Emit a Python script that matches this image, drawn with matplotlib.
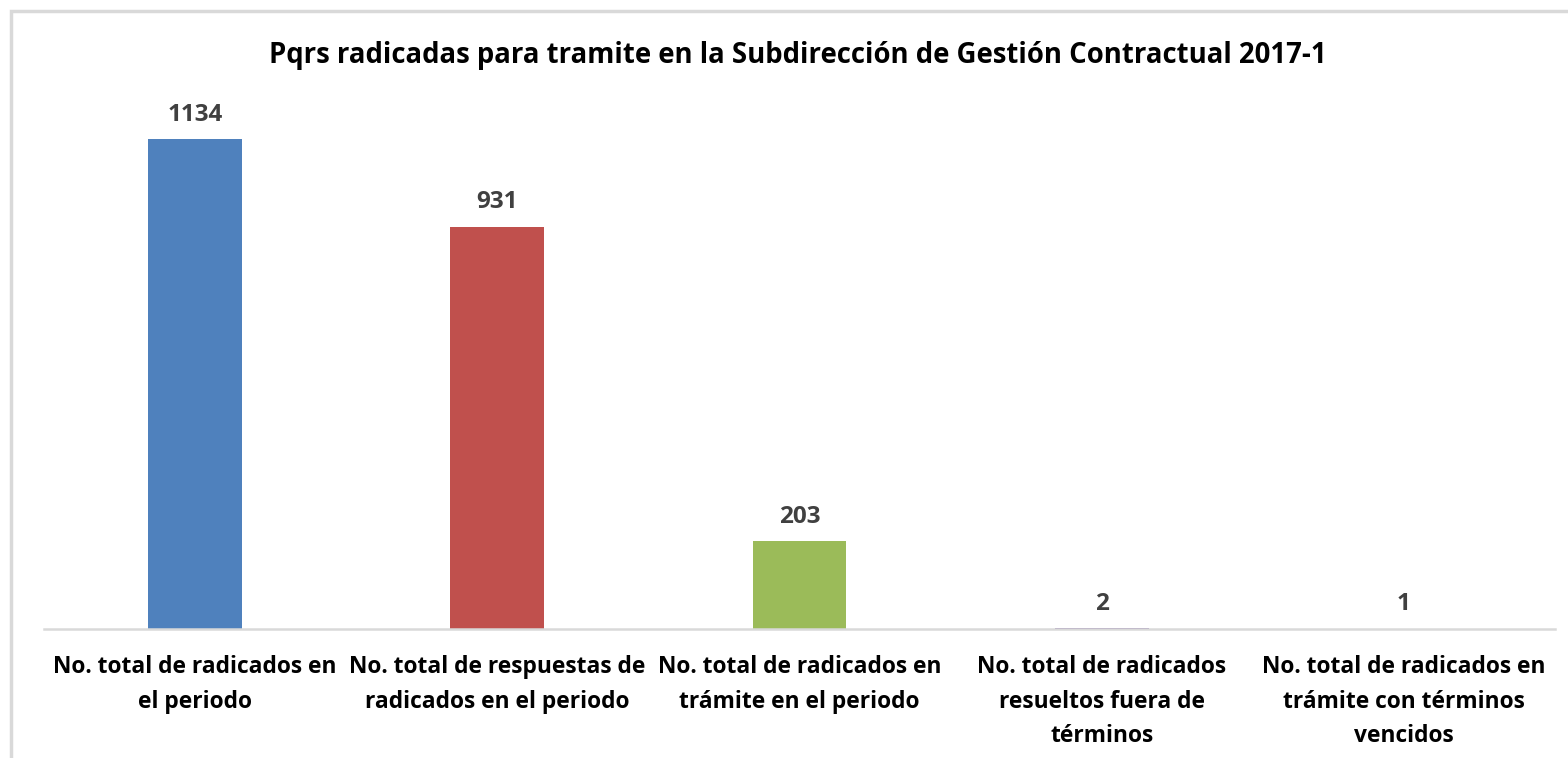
import matplotlib.pyplot as plt
import matplotlib
from matplotlib.patches import Rectangle
import numpy as np

font = {'family': 'Open Sans',
        'weight': 'bold',
        'size': 16}
matplotlib.rc('font', **font)

categories = ['No. total de radicados en\nel periodo',
              'No. total de respuestas de\nradicados en el periodo',
              'No. total de radicados en\ntrámite en el periodo',
              'No. total de radicados\nresueltos fuera de\ntérminos',
              'No. total de radicados en\ntrámite con términos\nvencidos']
values = [1134, 931, 203, 2, 1]
colors = ['#4F81BD', '#C0504D', '#9BBB59', '#8064A2', '#4BACC6']
title = 'Pqrs radicadas para tramite en la Subdirección de Gestión Contractual 2017-1'

W, H = 1568, 758
fig = plt.figure(figsize=(W / 100, H / 100), dpi=100)
ax = fig.add_axes([44 / W, (H - 629) / H, (1555 - 44) / W, (629 - 100) / H])

x = np.arange(len(values))
ax.bar(x, values, width=0.31, color=colors, zorder=2)
for xi, v in zip(x, values):
    ax.annotate(str(v), (xi, v), xytext=(0, 9), textcoords='offset points',
                ha='center', va='bottom', color='#404040', fontsize=17.5, fontweight='bold')

ax.set_xlim(-0.5, len(values) - 0.5)
ax.set_ylim(0, 1225)
ax.set_yticks([])
ax.set_xticks(x)
ax.set_xticklabels(categories, fontsize=16.4, fontweight='bold', linespacing=1.58)
ax.tick_params(axis='x', length=0, pad=19)
for s in ['top', 'right', 'left']:
    ax.spines[s].set_visible(False)
ax.spines['bottom'].set_color('#D9D9D9')
ax.spines['bottom'].set_linewidth(1.8)

fig.text(798 / W, 1 - 55 / H, title, ha='center', va='center', fontsize=19.8, fontweight='bold')

fig.patches.append(Rectangle((11 / W, -0.1), 2, (H - 11) / H + 0.1, fill=False,
                             edgecolor='#D9D9D9', linewidth=2.5, transform=fig.transFigure))

plt.savefig('out.png', dpi=100)
